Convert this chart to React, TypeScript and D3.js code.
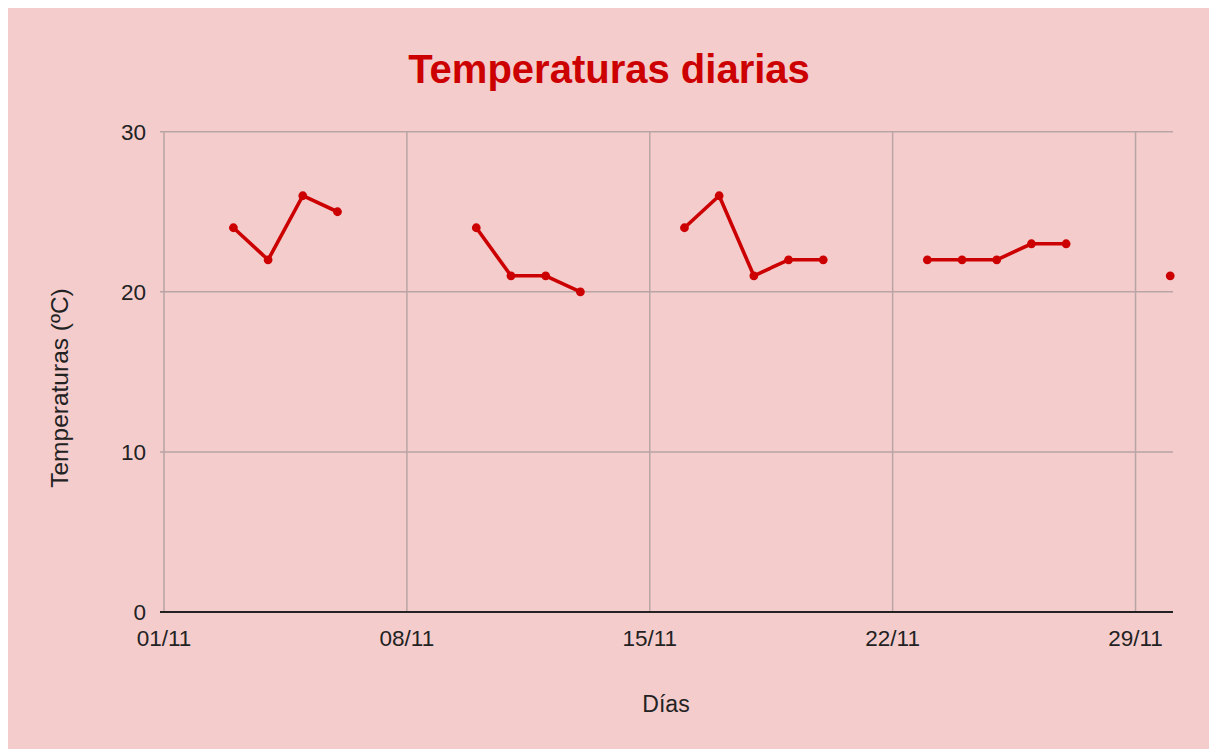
/**
 * Temperaturas diarias. Daily temperature line with gaps, Google-Sheets look.
 * Page offset is 8px (body margin) so svg coords = page coords - 8.
 */
import React, { useRef, useEffect } from 'react';
import * as d3 from 'd3';

const WIDTH = 1201;
const HEIGHT = 741;

const BG = '#F4CCCC';
const RED = '#CC0000';
const GRID = '#B9A5A5';
const FONT = 'Liberation Sans, Arial, sans-serif';

// days of November 2023, null = no reading
const DAYS = [
  1, 2, 3, 4, 5, 6, 7, 8, 9, 10, 11, 12, 13, 14, 15, 16, 17, 18, 19, 20, 21, 22, 23, 24, 25, 26, 27, 28, 29, 30,
];
const TEMPS: (number | null)[] = [
  null, null, 24, 22, 26, 25, null, null, null, 24, 21, 21, 20, null, null,
  24, 26, 21, 22, 22, null, null, 22, 22, 22, 23, 23, null, null, 21,
];
const X_TICK_DAYS = [1, 8, 15, 22, 29];
const Y_TICKS = [0, 10, 20, 30];

const TITLE = 'Temperaturas diarias';
const X_TITLE = 'Días';
const Y_TITLE = 'Temperaturas (ºC)';

const dayDate = (d: number) => new Date(Date.UTC(2023, 10, d));

const App: React.FC = () => {
  const svgRef = useRef<SVGSVGElement>(null);

  useEffect(() => {
    if (!svgRef.current) return;
    const svg = d3.select(svgRef.current);
    svg.selectAll('*').remove();

    const left = 156;
    const right = 1165;
    const top = 123.7;
    const bottom = 604;

    svg.append('rect').attr('width', WIDTH).attr('height', HEIGHT).attr('fill', BG);

    const x = d3
      .scaleUtc()
      .domain([dayDate(1), new Date(dayDate(30).getTime() + 0.08 * 864e5)])
      .range([left, right]);
    const y = d3.scaleLinear().domain([0, 30]).range([bottom, top]);

    // horizontal grid
    Y_TICKS.filter((v) => v > 0).forEach((v) => {
      svg.append('line')
        .attr('x1', left - 4)
        .attr('x2', right)
        .attr('y1', y(v))
        .attr('y2', y(v))
        .attr('stroke', GRID)
        .attr('stroke-width', 1.5);
    });

    // vertical grid
    X_TICK_DAYS.forEach((d) => {
      svg.append('line')
        .attr('x1', x(dayDate(d)))
        .attr('x2', x(dayDate(d)))
        .attr('y1', top)
        .attr('y2', bottom)
        .attr('stroke', GRID)
        .attr('stroke-width', 1.5);
    });

    // baseline
    svg.append('line')
      .attr('x1', left - 4)
      .attr('x2', right)
      .attr('y1', y(0))
      .attr('y2', y(0))
      .attr('stroke', '#222')
      .attr('stroke-width', 2);

    // y labels
    Y_TICKS.forEach((v) => {
      svg.append('text')
        .attr('x', 138)
        .attr('y', y(v) + 8)
        .attr('text-anchor', 'end')
        .attr('font-family', FONT)
        .attr('font-size', '22.5px')
        .attr('fill', '#222')
        .text(String(v));
    });

    // x labels
    const fmt = d3.utcFormat('%d/%m');
    X_TICK_DAYS.forEach((d) => {
      svg.append('text')
        .attr('x', x(dayDate(d)))
        .attr('y', 638)
        .attr('text-anchor', 'middle')
        .attr('font-family', FONT)
        .attr('font-size', '22.5px')
        .attr('fill', '#222')
        .text(fmt(dayDate(d)));
    });

    const pts = DAYS.map((d, i) => ({ date: dayDate(d), v: TEMPS[i] }));

    const line = d3
      .line<{ date: Date; v: number | null }>()
      .defined((p) => p.v !== null)
      .x((p) => x(p.date))
      .y((p) => y(p.v as number));

    svg.append('path')
      .datum(pts)
      .attr('d', line)
      .attr('fill', 'none')
      .attr('stroke', RED)
      .attr('stroke-width', 3.6)
      .attr('stroke-linejoin', 'round');

    svg.selectAll('circle.pt')
      .data(pts.filter((p) => p.v !== null))
      .enter()
      .append('circle')
      .attr('cx', (p) => x(p.date))
      .attr('cy', (p) => y(p.v as number))
      .attr('r', 4.4)
      .attr('fill', RED);

    // titles
    svg.append('text')
      .attr('x', 601)
      .attr('y', 75)
      .attr('text-anchor', 'middle')
      .attr('font-family', FONT)
      .attr('font-weight', 'bold')
      .attr('font-size', '40px')
      .attr('fill', RED)
      .text(TITLE);

    svg.append('text')
      .attr('x', 658)
      .attr('y', 704)
      .attr('text-anchor', 'middle')
      .attr('font-family', FONT)
      .attr('font-size', '23px')
      .attr('fill', '#222')
      .text(X_TITLE);

    svg.append('text')
      .attr('transform', `translate(60, 380) rotate(-90)`)
      .attr('text-anchor', 'middle')
      .attr('font-family', FONT)
      .attr('font-size', '24.5px')
      .attr('fill', '#222')
      .text(Y_TITLE);
  }, []);

  return (
    <svg
      ref={svgRef}
      width={WIDTH}
      height={HEIGHT}
      viewBox={`0 0 ${WIDTH} ${HEIGHT}`}
      style={{ display: 'block', position: 'fixed', left: 8, top: 8 }}
    />
  );
};

export default App;
